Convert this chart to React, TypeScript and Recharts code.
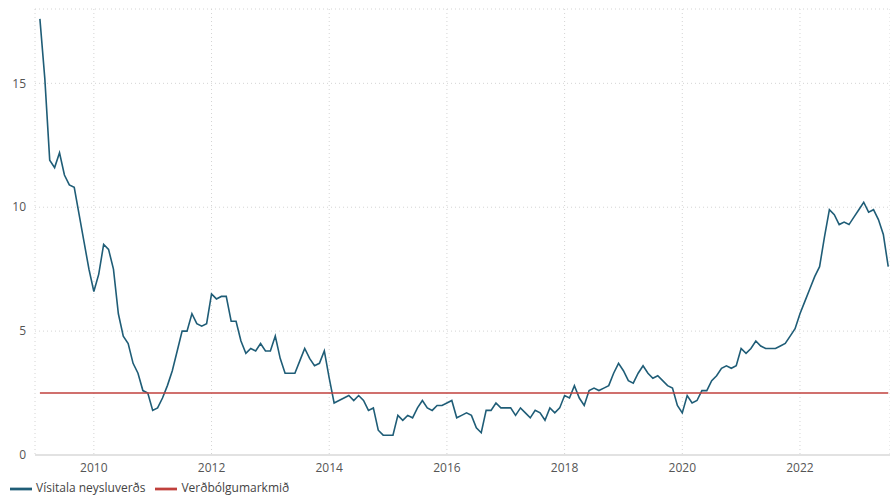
import { LineChart, Line, XAxis, YAxis, CartesianGrid, Legend } from "recharts";

// Monthly 12-month CPI inflation (%), first observation February 2009
const startYear = 2009;
const startMonth = 2;
const inflation = [
  17.6, 15.2, 11.9, 11.6, 12.2, 11.3, 10.9, 10.8, 9.7, 8.6, 7.5, // 2009
  6.6, 7.3, 8.5, 8.3, 7.5, 5.7, 4.8, 4.5, 3.7, 3.3, 2.6, 2.5, // 2010
  1.8, 1.9, 2.3, 2.8, 3.4, 4.2, 5.0, 5.0, 5.7, 5.3, 5.2, 5.3, // 2011
  6.5, 6.3, 6.4, 6.4, 5.4, 5.4, 4.6, 4.1, 4.3, 4.2, 4.5, 4.2, // 2012
  4.2, 4.8, 3.9, 3.3, 3.3, 3.3, 3.8, 4.3, 3.9, 3.6, 3.7, 4.2, // 2013
  3.1, 2.1, 2.2, 2.3, 2.4, 2.2, 2.4, 2.2, 1.8, 1.9, 1.0, 0.8, // 2014
  0.8, 0.8, 1.6, 1.4, 1.6, 1.5, 1.9, 2.2, 1.9, 1.8, 2.0, 2.0, // 2015
  2.1, 2.2, 1.5, 1.6, 1.7, 1.6, 1.1, 0.9, 1.8, 1.8, 2.1, 1.9, // 2016
  1.9, 1.9, 1.6, 1.9, 1.7, 1.5, 1.8, 1.7, 1.4, 1.9, 1.7, 1.9, // 2017
  2.4, 2.3, 2.8, 2.3, 2.0, 2.6, 2.7, 2.6, 2.7, 2.8, 3.3, 3.7, // 2018
  3.4, 3.0, 2.9, 3.3, 3.6, 3.3, 3.1, 3.2, 3.0, 2.8, 2.7, 2.0, // 2019
  1.7, 2.4, 2.1, 2.2, 2.6, 2.6, 3.0, 3.2, 3.5, 3.6, 3.5, 3.6, // 2020
  4.3, 4.1, 4.3, 4.6, 4.4, 4.3, 4.3, 4.3, 4.4, 4.5, 4.8, 5.1, // 2021
  5.7, 6.2, 6.7, 7.2, 7.6, 8.8, 9.9, 9.7, 9.3, 9.4, 9.3, 9.6, // 2022
  9.9, 10.2, 9.8, 9.9, 9.5, 8.9, 7.6, // 2023
];
const targetRate = 2.5;

const yearTicks = [2010, 2012, 2014, 2016, 2018, 2020, 2022];
const valueTicks = [0, 5, 10, 15];

const data = inflation.map((v, i) => ({
  t: startYear + (startMonth - 1 + i) / 12,
  cpi: v,
  target: targetRate,
}));

export default function App() {
  return (
    <div style={{ position: "absolute", left: 0, top: 0, fontFamily: "'Open Sans', sans-serif" }}>
      <LineChart width={890} height={500} data={data} margin={{ top: 9, right: 0, bottom: 0, left: 0 }}>
        <CartesianGrid stroke="#d4d4d4" strokeDasharray="1 3" />
        <XAxis
          dataKey="t"
          type="number"
          domain={[2009, 2023.53]}
          ticks={yearTicks}
          allowDataOverflow
          tickLine={false}
          axisLine={{ stroke: "#e2e2e2", strokeWidth: 2 }}
          tick={{ fill: "#555", fontSize: 12 }}
          height={22}
        />
        <YAxis
          domain={[0, 18]}
          ticks={valueTicks}
          width={35}
          tickLine={false}
          axisLine={false}
          tickMargin={3}
          tick={{ fill: "#555", fontSize: 12 }}
        />
        <Legend
          verticalAlign="bottom"
          align="left"
          iconType="plainline"
          iconSize={22}
          itemSorter="dataKey"
          wrapperStyle={{ fontSize: 12, paddingTop: 1, paddingLeft: 10 }}
          formatter={(value) => <span style={{ color: "#444" }}>{value}</span>}
        />
        <Line
          type="linear"
          dataKey="cpi"
          name="Vísitala neysluverðs"
          stroke="#1f5d77"
          strokeWidth={1.6}
          dot={false}
          isAnimationActive={false}
        />
        <Line
          type="linear"
          dataKey="target"
          name="Verðbólgumarkmið"
          stroke="#c0403c"
          strokeWidth={1.6}
          dot={false}
          isAnimationActive={false}
        />
      </LineChart>
    </div>
  );
}
